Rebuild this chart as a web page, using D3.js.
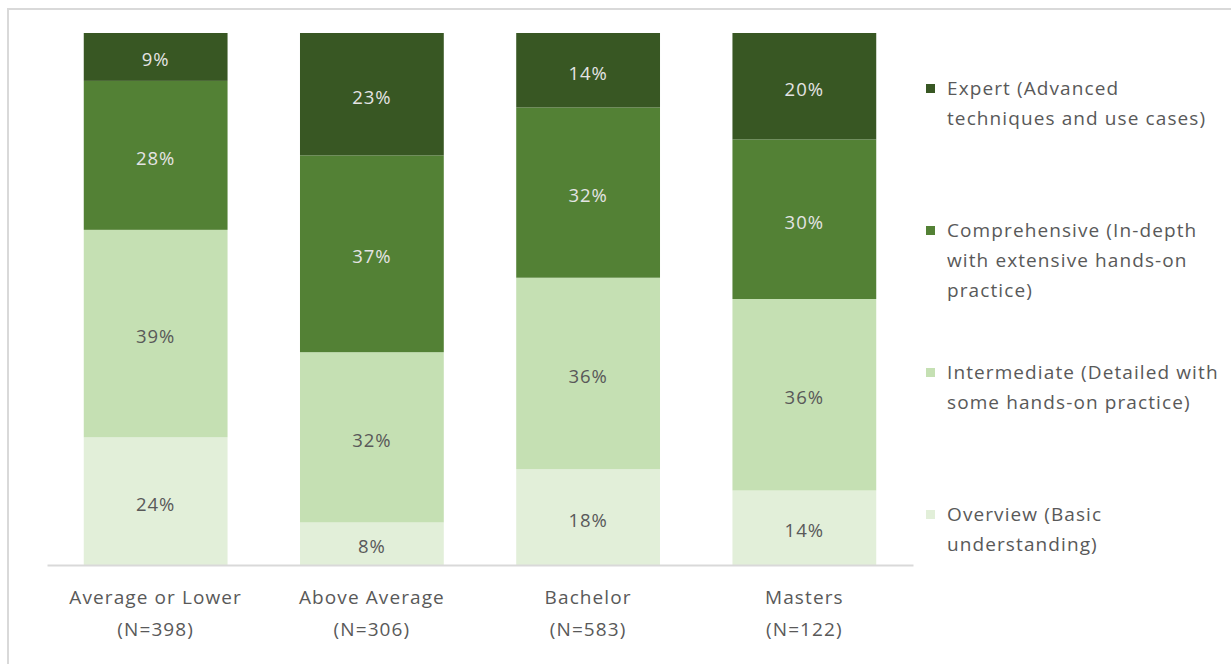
<!DOCTYPE html>
<html>
<head>
<meta charset="utf-8">
<script src="https://cdn.jsdelivr.net/npm/d3@7/dist/d3.min.js"></script>
<style>
  html, body { margin: 0; padding: 0; background: #ffffff; }
  svg { display: block; }
  text { font-family: "Open Sans", "Noto Sans", sans-serif; }
</style>
</head>
<body>
<svg id="chart" width="1231" height="664"></svg>
<script>
// Education groups along the x axis (two-line labels)
const categories = ["Average or Lower", "Above Average", "Bachelor", "Masters"];
const sampleSizes = ["(N=398)", "(N=306)", "(N=583)", "(N=122)"];

// Training depth levels, stacked bottom to top
const seriesKeys = ["overview", "intermediate", "comprehensive", "expert"];
const seriesLabels = [
  ["Expert (Advanced", "techniques and use cases)"],
  ["Comprehensive (In-depth", "with extensive hands-on", "practice)"],
  ["Intermediate (Detailed with", "some hands-on practice)"],
  ["Overview (Basic", "understanding)"]
];
const seriesColors = ["#e2efd9", "#c5e0b3", "#538135", "#385723"];

// Percent of respondents per group
const overview      = [24, 8, 18, 14];
const intermediate  = [39, 32, 36, 36];
const comprehensive = [28, 37, 32, 30];
const expert        = [9, 23, 14, 20];

const rows = categories.map((c, i) => ({
  category: c,
  overview: overview[i],
  intermediate: intermediate[i],
  comprehensive: comprehensive[i],
  expert: expert[i]
}));

const svg = d3.select("#chart");

// Outer frame
svg.append("rect")
  .attr("x", 8).attr("y", 9)
  .attr("width", 1240).attr("height", 670)
  .attr("fill", "none")
  .attr("stroke", "#d9d9d9")
  .attr("stroke-width", 2);

const plot = { left: 47, right: 913, top: 33, bottom: 565 };

const x = d3.scaleBand()
  .domain(categories)
  .range([plot.left, plot.right])
  .paddingInner(0.335)
  .paddingOuter(0.17);

const y = d3.scaleLinear()
  .domain([0, 100])
  .range([plot.bottom, plot.top]);

const color = d3.scaleOrdinal().domain(seriesKeys).range(seriesColors);

const stacked = d3.stack().keys(seriesKeys)(rows);

const layers = svg.append("g").selectAll("g")
  .data(stacked)
  .join("g")
  .attr("fill", d => color(d.key));

layers.selectAll("rect")
  .data(d => d)
  .join("rect")
  .attr("x", d => x(d.data.category))
  .attr("width", x.bandwidth())
  .attr("y", d => y(d[1]))
  .attr("height", d => y(d[0]) - y(d[1]));

// Value labels centred in each segment
const labels = svg.append("g");
stacked.forEach(layer => {
  const dark = layer.key === "expert" || layer.key === "comprehensive";
  labels.selectAll(null)
    .data(layer)
    .join("text")
    .attr("x", d => x(d.data.category) + x.bandwidth() / 2)
    .attr("y", d => (y(d[0]) + y(d[1])) / 2 + 2)
    .attr("text-anchor", "middle")
    .attr("dominant-baseline", "central")
    .attr("font-size", 18.5)
    .attr("letter-spacing", 1)
    .attr("fill", dark ? "#e4e4e4" : "#595959")
    .text(d => (d[1] - d[0]) + "%");
});

// Category axis
const xAxis = svg.append("g")
  .attr("transform", `translate(0,${plot.bottom})`)
  .call(d3.axisBottom(x).tickSize(0).tickFormat(""));
xAxis.select(".domain").attr("stroke", "#d9d9d9").attr("stroke-width", 2);

const tickText = xAxis.selectAll(".tick").append("text")
  .attr("fill", "#595959")
  .attr("font-size", 19)
  .attr("letter-spacing", 1.1)
  .attr("text-anchor", "middle");
tickText.append("tspan").attr("x", 0).attr("y", 39).text(d => d);
tickText.append("tspan").attr("x", 0).attr("y", 71)
  .text(d => sampleSizes[categories.indexOf(d)]);

// Legend, top series first
const legendTops = [88, 230, 372, 514];
const legendKeys = ["expert", "comprehensive", "intermediate", "overview"];
const legend = svg.append("g");
legendKeys.forEach((k, i) => {
  const g = legend.append("g").attr("transform", `translate(926,${legendTops[i]})`);
  g.append("rect")
    .attr("x", 0).attr("y", -4)
    .attr("width", 9).attr("height", 9)
    .attr("fill", color(k));
  const t = g.append("text")
    .attr("fill", "#595959")
    .attr("font-size", 19)
    .attr("letter-spacing", 1.1);
  seriesLabels[i].forEach((line, j) => {
    t.append("tspan")
      .attr("x", 21)
      .attr("y", j * 30)
      .attr("dy", "0.35em")
      .text(line);
  });
});
</script>
</body>
</html>
